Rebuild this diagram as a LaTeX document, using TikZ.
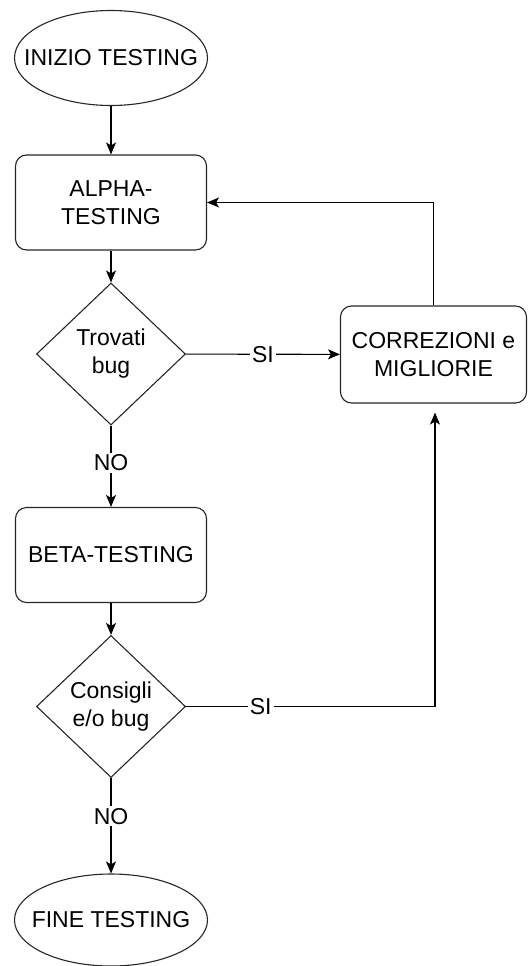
\documentclass[tikz,border=0pt]{standalone}
\usepackage{fontspec}
\setmainfont{Liberation Sans}
\usetikzlibrary{shapes.geometric,arrows.meta}
\begin{document}
\begin{tikzpicture}[x=1pt,y=-1pt,
  txt/.style={font=\fontsize{23pt}{28pt}\selectfont, text=black},
  term/.style={draw=black!85, line width=1.1pt, ellipse, inner sep=0pt, minimum width=193pt, minimum height=95pt},
  proc/.style={draw=black!85, line width=1.1pt, rectangle, rounded corners=11pt, inner sep=0pt, minimum width=191pt, minimum height=95pt, txt, align=center},
  dec/.style={draw=black!85, line width=1.1pt, diamond, inner sep=0pt, minimum width=149pt, minimum height=142pt, aspect=1.05, txt, align=center},
  arr/.style={draw=black, line width=1.1pt, -{Stealth[length=12pt,width=10pt,inset=3pt]}},
  lbl/.style={txt, fill=white, inner sep=2pt}
]
\useasboundingbox (0,0) rectangle (528,966);
\node[term, label={[txt]center:INIZIO TESTING}] (start) at (111,58) {};
\node[proc] (alpha) at (111,202.5) {ALPHA-\\TESTING};
\node[dec] (d1) at (111,354) {Trovati\\bug};
\node[proc, minimum width=186pt, minimum height=97pt] (corr) at (433.5,354.5) {CORREZIONI e\\MIGLIORIE};
\node[proc] (beta) at (111,555) {BETA-TESTING};
\node[dec] (d2) at (111,706.5) {Consigli\\e/o bug};
\node[term, minimum height=92pt, label={[txt]center:FINE TESTING}] (end) at (111,920) {};

\draw[arr] (start) -- (alpha);
\draw[arr] (alpha) -- (d1);
\draw[arr] (d1) -- node[lbl] {SI} (corr);
\draw[arr] (corr.north) |- (alpha.east);
\draw[arr] (d1) -- node[lbl, pos=0.46] {NO} (beta);
\draw[arr] (beta) -- (d2);
\coordinate (k) at (435,706.5);
\draw[arr, shorten >=9pt] (d2.east) -- node[lbl, pos=0.3] {SI} (k) -- (corr.south -| k);
\draw[arr] (d2) -- node[lbl, pos=0.4] {NO} (end);
\end{tikzpicture}
\end{document}
